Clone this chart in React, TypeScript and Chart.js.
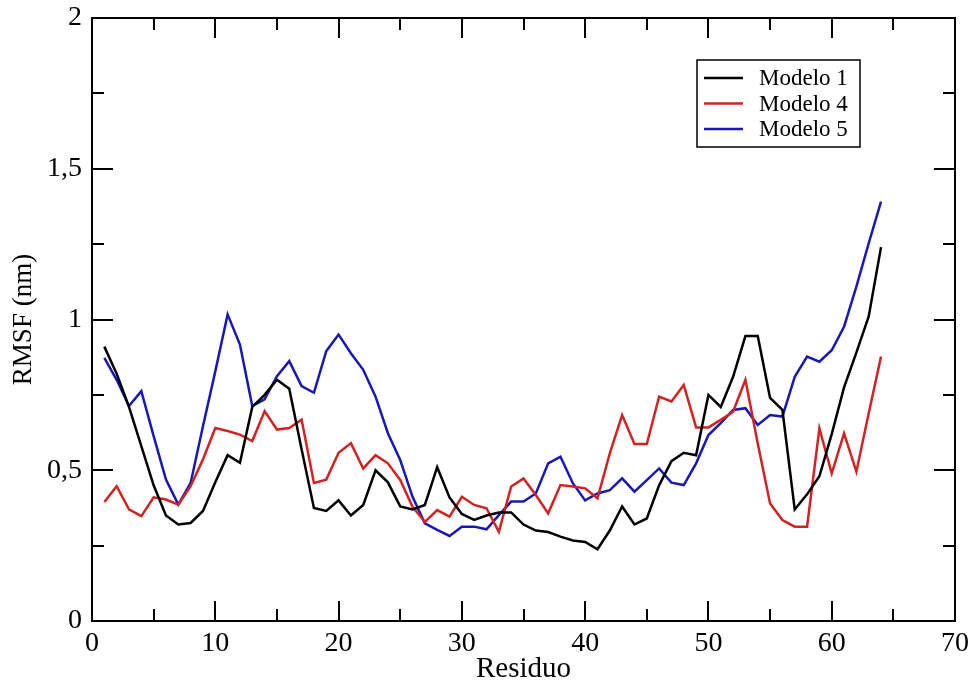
import { useEffect, useRef } from 'react';
import { Chart, registerables } from 'chart.js';

Chart.register(...registerables);

// Residue numbers along the x axis
const residuos = [
  1, 2, 3, 4, 5, 6, 7, 8, 9, 10, 11, 12, 13, 14, 15, 16,
  17, 18, 19, 20, 21, 22, 23, 24, 25, 26, 27, 28, 29, 30, 31, 32,
  33, 34, 35, 36, 37, 38, 39, 40, 41, 42, 43, 44, 45, 46, 47, 48,
  49, 50, 51, 52, 53, 54, 55, 56, 57, 58, 59, 60, 61, 62, 63, 64,
];

// RMSF per residue (nm)
const modelo1 = [
  0.91, 0.82, 0.71, 0.58, 0.45, 0.35, 0.32, 0.325, 0.365, 0.46, 0.55, 0.525, 0.71, 0.75, 0.8, 0.77,
  0.57, 0.375, 0.365, 0.4, 0.35, 0.385, 0.5, 0.46, 0.38, 0.37, 0.385, 0.51, 0.41, 0.355, 0.335, 0.35,
  0.36, 0.36, 0.32, 0.3, 0.295, 0.28, 0.267, 0.262, 0.238, 0.3, 0.38, 0.32, 0.34, 0.45, 0.53, 0.558,
  0.55, 0.75, 0.71, 0.81, 0.945, 0.945, 0.74, 0.7, 0.37, 0.42, 0.48, 0.62, 0.775, 0.89, 1.01, 1.24,
];

const modelo4 = [
  0.395, 0.447, 0.37, 0.348, 0.41, 0.403, 0.386, 0.447, 0.536, 0.64, 0.63, 0.618, 0.597, 0.696, 0.635, 0.64,
  0.668, 0.458, 0.469, 0.558, 0.59, 0.506, 0.55, 0.523, 0.468, 0.379, 0.329, 0.368, 0.346, 0.412, 0.385, 0.374,
  0.296, 0.446, 0.473, 0.418, 0.357, 0.451, 0.446, 0.44, 0.407, 0.556, 0.683, 0.587, 0.587, 0.744, 0.728, 0.783,
  0.642, 0.642, 0.667, 0.694, 0.8, 0.589, 0.39, 0.335, 0.313, 0.313, 0.639, 0.49, 0.622, 0.495, 0.689, 0.877,
];

const modelo5 = [
  0.873, 0.8, 0.713, 0.762, 0.613, 0.469, 0.386, 0.458, 0.646, 0.828, 1.017, 0.917, 0.713, 0.735, 0.812, 0.862,
  0.779, 0.757, 0.895, 0.95, 0.888, 0.833, 0.744, 0.623, 0.534, 0.412, 0.324, 0.302, 0.282, 0.313, 0.313, 0.304,
  0.351, 0.396, 0.396, 0.423, 0.523, 0.545, 0.457, 0.4, 0.423, 0.434, 0.473, 0.429, 0.467, 0.506, 0.459, 0.451,
  0.523, 0.617, 0.656, 0.7, 0.706, 0.65, 0.683, 0.678, 0.81, 0.877, 0.86, 0.898, 0.976, 1.109, 1.253, 1.391,
];

const seriesLabels = ['Modelo 1', 'Modelo 4', 'Modelo 5'];
const seriesColors = ['#000000', '#d42222', '#1818b8'];

// Axis ranges and tick spacing (major / minor)
const xRange = [0, 70];
const xMajor = 10;
const xMinor = 5;
const yRange = [0, 2];
const yMajor = 0.5;
const yMinor = 0.25;

const SERIF = "'Liberation Serif', 'Times New Roman', serif";

// Frame around the plot with inward-pointing major/minor ticks on all four sides
const frameTicks = {
  id: 'frameTicks',
  afterDatasetsDraw(chart: any) {
    const { ctx, chartArea: a, scales } = chart;
    const x = scales.x;
    const y = scales.y;
    ctx.save();
    ctx.strokeStyle = '#000';
    ctx.lineWidth = 2;
    ctx.strokeRect(a.left, a.top, a.right - a.left, a.bottom - a.top);
    ctx.beginPath();
    const nx = Math.round((xRange[1] - xRange[0]) / xMinor);
    for (let k = 1; k < nx; k++) {
      const v = xRange[0] + k * xMinor;
      const px = Math.round(x.getPixelForValue(v));
      const len = k % Math.round(xMajor / xMinor) === 0 ? 20 : 12;
      ctx.moveTo(px, a.bottom);
      ctx.lineTo(px, a.bottom - len);
      ctx.moveTo(px, a.top);
      ctx.lineTo(px, a.top + len);
    }
    const ny = Math.round((yRange[1] - yRange[0]) / yMinor);
    for (let k = 1; k < ny; k++) {
      const v = yRange[0] + k * yMinor;
      const py = Math.round(y.getPixelForValue(v));
      const len = k % Math.round(yMajor / yMinor) === 0 ? 21 : 12;
      ctx.moveTo(a.left, py);
      ctx.lineTo(a.left + len, py);
      ctx.moveTo(a.right, py);
      ctx.lineTo(a.right - len, py);
    }
    ctx.stroke();
    ctx.restore();
  },
};

// Boxed legend in the upper right of the plot
const boxedLegend = {
  id: 'boxedLegend',
  afterDraw(chart: any) {
    const { ctx, chartArea: a } = chart;
    const left = a.right - 258;
    const top = a.top + 42;
    const w = 163;
    const h = 87;
    ctx.save();
    ctx.fillStyle = '#fff';
    ctx.fillRect(left, top, w, h);
    ctx.strokeStyle = '#000';
    ctx.lineWidth = 1.5;
    ctx.strokeRect(left, top, w, h);
    ctx.font = `23px ${SERIF}`;
    ctx.textBaseline = 'middle';
    ctx.textAlign = 'left';
    chart.data.datasets.forEach((ds: any, i: number) => {
      const rowY = top + 18 + i * 25.5;
      ctx.strokeStyle = ds.borderColor;
      ctx.lineWidth = 2.5;
      ctx.beginPath();
      ctx.moveTo(left + 7, rowY);
      ctx.lineTo(left + 46, rowY);
      ctx.stroke();
      ctx.fillStyle = '#000';
      ctx.fillText(ds.label, left + 62, rowY + 1);
    });
    ctx.restore();
  },
};

export default function App() {
  const canvasRef = useRef<HTMLCanvasElement | null>(null);

  useEffect(() => {
    const canvas = canvasRef.current;
    if (!canvas) return;
    const series = [modelo1, modelo4, modelo5];
    const chart = new Chart(canvas, {
      type: 'line',
      data: {
        datasets: series.map((vals, i) => ({
          label: seriesLabels[i],
          data: residuos.map((r, j) => ({ x: r, y: vals[j] })),
          borderColor: seriesColors[i],
          backgroundColor: seriesColors[i],
          borderWidth: 2.5,
          pointRadius: 0,
          tension: 0,
          fill: false,
        })),
      },
      options: {
        responsive: false,
        animation: false,
        devicePixelRatio: 1,
        layout: { padding: { top: 18, right: 20, left: 0, bottom: 0 } },
        plugins: {
          legend: { display: false },
          tooltip: { enabled: false },
        },
        scales: {
          x: {
            type: 'linear',
            min: xRange[0],
            max: xRange[1],
            grid: { display: false, drawTicks: false },
            border: { display: false },
            ticks: {
              stepSize: xMajor,
              color: '#000',
              padding: 6,
              maxRotation: 0,
              autoSkip: false,
              font: { family: SERIF, size: 28 },
            },
            title: {
              display: true,
              text: 'Residuo',
              color: '#000',
              font: { family: SERIF, size: 29 },
              padding: { top: 0, bottom: 2 },
            },
            afterFit(scale: any) {
              scale.height = 68;
              scale.paddingLeft = 0;
              scale.paddingRight = 0;
            },
          },
          y: {
            min: yRange[0],
            max: yRange[1],
            grid: { display: false, drawTicks: false },
            border: { display: false },
            ticks: {
              stepSize: yMajor,
              color: '#000',
              padding: 10,
              font: { family: SERIF, size: 28 },
              callback: (v: any) => String(v).replace('.', ','),
            },
            title: {
              display: true,
              text: 'RMSF (nm)',
              color: '#000',
              font: { family: SERIF, size: 27 },
              padding: { top: 8, bottom: 0 },
            },
            afterFit(scale: any) {
              scale.width = 92;
              scale.paddingTop = 0;
              scale.paddingBottom = 0;
            },
          },
        },
      },
      plugins: [frameTicks, boxedLegend],
    });
    return () => chart.destroy();
  }, []);

  return (
    <div style={{ position: 'absolute', left: 0, top: 0, width: 975, height: 689, background: '#fff' }}>
      <canvas ref={canvasRef} width={975} height={689} style={{ display: 'block' }} />
    </div>
  );
}
